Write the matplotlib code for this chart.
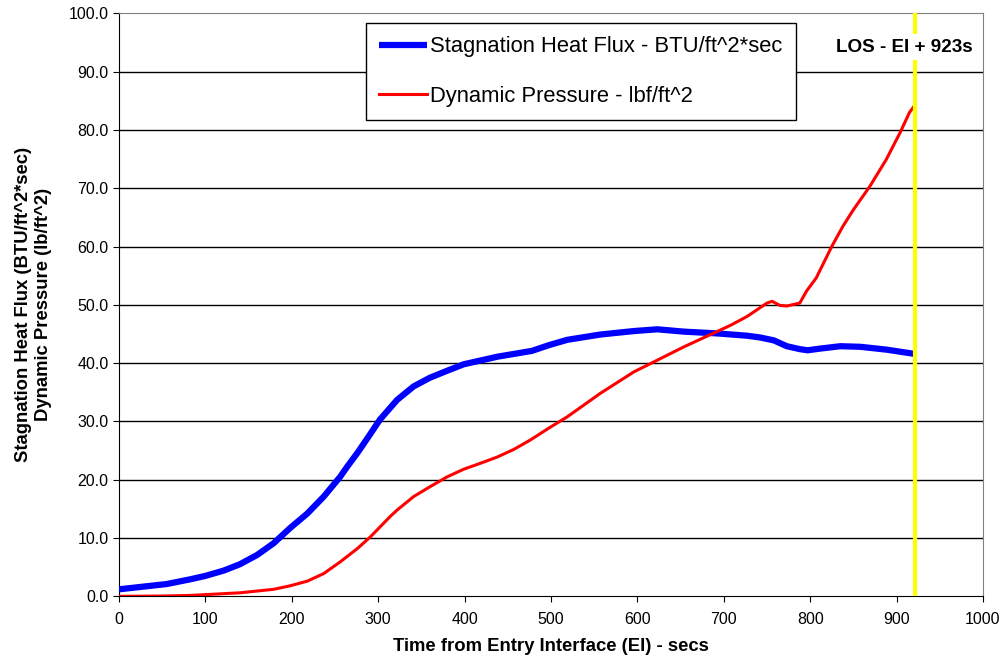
import matplotlib
matplotlib.use("Agg")
import matplotlib.pyplot as plt

plt.rcParams['font.family'] = ['Liberation Sans', 'DejaVu Sans']

# Stagnation heat flux (BTU/ft^2*sec)
t_heat = [0, 55, 82, 100, 121, 140, 160, 179, 198, 218, 237, 256, 264, 276, 288, 302, 312, 322,
          341, 360, 380, 399, 438, 478, 498, 519, 557, 596, 623, 654, 692, 727, 742, 758, 773, 788, 797,
          812, 835, 858, 889, 920]
heat = [1.2, 2.1, 2.9, 3.5, 4.4, 5.5, 7.1, 9.1, 11.7, 14.2, 17.1, 20.5, 22.2, 24.6, 27.2, 30.3, 32.0, 33.7,
        36.0, 37.5, 38.7, 39.8, 41.1, 42.1, 43.1, 44.0, 44.9, 45.5, 45.8, 45.4, 45.1, 44.7, 44.4, 43.9, 42.9,
        42.4, 42.2, 42.5, 42.9, 42.8, 42.3, 41.6]

# Dynamic pressure (lbf/ft^2)
t_dyn = [0, 50, 82, 140, 179, 198, 218, 237, 256, 276, 291, 314, 322, 341, 360, 380, 399, 418, 438,
         457, 476, 497, 519, 557, 596, 623, 654, 692, 708, 727, 750, 756, 765, 773, 788, 796, 807, 825,
         838, 850, 869, 888, 904, 915, 920]
dyn = [0.0, 0.05, 0.15, 0.6, 1.2, 1.8, 2.6, 3.9, 5.9, 8.2, 10.2, 13.7, 14.8, 17.1, 18.8, 20.5, 21.8, 22.8, 23.9,
       25.2, 26.8, 28.8, 30.8, 34.8, 38.5, 40.5, 42.8, 45.4, 46.5, 48.0, 50.3, 50.6, 49.9, 49.8, 50.3, 52.4,
       54.6, 60.0, 63.5, 66.3, 70.3, 74.9, 79.5, 83.0, 84.0]

x_ticks = list(range(0, 1001, 100))
y_ticks = [i * 10.0 for i in range(11)]
los_line_x = 921

fig = plt.figure(figsize=(10.03, 6.6), dpi=100)
ax = fig.add_axes([0.1186, 0.0965, 0.8614, 0.8833])

for y in y_ticks[1:-1]:
    ax.axhline(y, color='black', lw=1.0, zorder=1)

ax.plot(t_heat, heat, color='#0000FF', lw=4.5, label='Stagnation Heat Flux - BTU/ft^2*sec', zorder=3,
        solid_capstyle='butt', solid_joinstyle='round')
ax.plot(t_dyn, dyn, color='#FF0000', lw=2.2, label='Dynamic Pressure - lbf/ft^2', zorder=3,
        solid_joinstyle='round')

ax.axvline(los_line_x, color='#FFFF00', lw=3.0, zorder=4)
ax.text(909, 94.2, 'LOS - EI + 923s', fontsize=13.6, fontweight='bold', ha='center', va='center',
        zorder=5, bbox=dict(facecolor='white', edgecolor='none', pad=3))

ax.set_xlim(0, 1000)
ax.set_ylim(0, 100)
ax.set_xticks(x_ticks)
ax.set_yticks(y_ticks)
ax.set_yticklabels([f'{v:.1f}' for v in y_ticks])
ax.tick_params(axis='both', labelsize=11.5, length=4, direction='out', color='black')
ax.tick_params(axis='x', pad=7)

for s in ['left', 'bottom']:
    ax.spines[s].set_color('black')
for s in ['top', 'right']:
    ax.spines[s].set_color('#808080')

ax.set_xlabel('Time from Entry Interface (EI) - secs', fontsize=13.3, fontweight='bold', labelpad=8)
ax.set_ylabel('Stagnation Heat Flux (BTU/ft^2*sec)\nDynamic Pressure (lb/ft^2)', fontsize=13.3,
              fontweight='bold', labelpad=12)

leg = ax.legend(loc='upper left', bbox_to_anchor=(0.2854, 0.984), fontsize=15.8, frameon=True,
                fancybox=False, edgecolor='black', framealpha=1, handlelength=2.2, handletextpad=0.1,
                borderpad=0.62, labelspacing=1.3, borderaxespad=0)
leg.get_frame().set_linewidth(1.0)

fig.savefig('out.png', dpi=100)
